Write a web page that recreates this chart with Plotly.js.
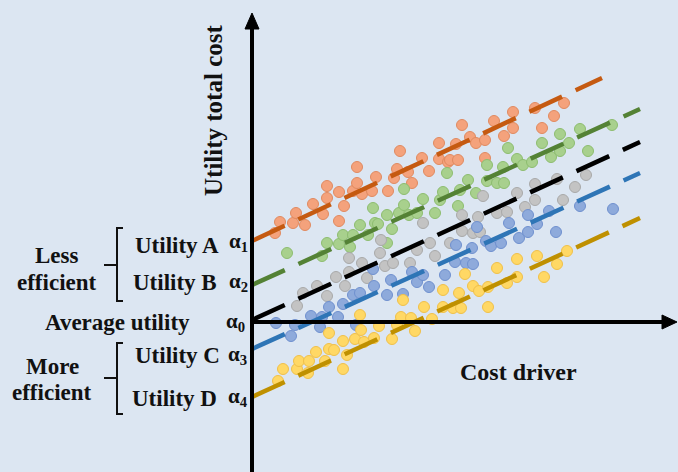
<!DOCTYPE html>
<html>
<head>
<meta charset="utf-8">
<script src="https://cdn.plot.ly/plotly-3.0.1.min.js"></script>
<style>html,body{margin:0;padding:0;background:#dce6f2;}#chart{width:678px;height:472px;}</style>
</head>
<body>
<div id="chart"></div>
<script>
// Scatter points per utility (cost driver, total cost) in diagram units; origin = average utility intercept
const utilityA = [[23,89],[28,100],[41,99],[44,109],[53,97],[61,118],[71,108],[75,136],[75,124],[87,130],[87,101],[92,116],[101,131],[105,155],[105,139],[110,128],[120,131],[124,145],[136,131],[142,144],[145,153],[148,171],[156,150],[160,139],[170,164],[177,151],[187,179],[187,163],[196,160],[198,162],[204,178],[206,162],[210,197],[218,185],[224,179],[233,182],[233,164],[242,201],[252,186],[261,210],[261,194],[283,214],[290,194],[302,206],[312,219]];
const utilityB = [[35,69],[70,66],[75,79],[87,78],[91,87],[98,75],[101,87],[108,97],[116,87],[121,114],[123,99],[126,98],[135,107],[135,79],[140,93],[147,109],[152,117],[152,133],[157,107],[165,109],[171,123],[183,109],[188,122],[191,130],[195,149],[206,116],[208,132],[216,142],[224,129],[235,157],[235,141],[245,139],[251,155],[252,139],[256,174],[265,163],[271,157],[280,160],[290,179],[299,165],[308,188],[308,171],[317,179],[328,193],[336,171],[360,197]];
const utilityAvg = [[45,16],[51,29],[65,36],[75,26],[84,45],[93,36],[97,64],[97,50],[110,59],[115,44],[128,69],[129,82],[133,56],[141,59],[158,59],[165,72],[171,99],[178,79],[183,66],[198,79],[210,107],[210,91],[221,89],[226,105],[228,90],[231,126],[245,109],[255,110],[265,129],[273,115],[283,122],[283,138],[305,143],[311,122],[323,135],[334,147]];
const utilityC = [[24,-1],[39,-14],[43,-3],[59,6],[68,-5],[70,5],[77,15],[86,5],[91,18],[101,27],[104,-3],[108,29],[121,53],[122,36],[135,27],[139,42],[151,28],[160,50],[165,40],[171,47],[177,35],[193,47],[203,60],[204,77],[214,59],[220,74],[221,58],[225,95],[234,81],[239,76],[249,79],[257,99],[267,84],[276,107],[276,90],[285,98],[297,111],[304,90],[328,116],[361,113]];
const utilityD = [[26,-59],[31,-47],[45,-47],[47,-39],[56,-51],[57,-39],[64,-30],[73,-39],[77,-27],[77,-11],[82,-28],[91,-47],[91,-19],[95,-33],[103,-17],[108,7],[109,-8],[112,-20],[122,-16],[127,-4],[140,-17],[145,-3],[149,5],[151,22],[159,4],[163,-9],[172,15],[180,3],[191,32],[191,15],[201,14],[207,29],[209,14],[213,48],[221,36],[227,31],[236,35],[236,15],[245,54],[255,39],[265,63],[265,45],[285,66],[292,45],[305,58],[315,71]];

// Fitted frontier lines: intercept (alpha) and end point
const seriesNames = ['Utility A','Utility B','Average utility','Utility C','Utility D'];
const lineStartY = [81, 37, 2, -27, -75];
const lineEndX = [350, 388, 388, 388, 388];
const lineEndY = [244, 213, 180, 149, 104];

const markerFill = ['#f4a27c','#a8d08d','#c3c3c3','#8eaadb','#ffd865'];
const markerEdge = ['#e08a60','#8dbd6f','#a9a9a9','#6f90cf','#f0c04a'];
const lineColor = ['#c55a11','#548235','#000000','#2e75b6','#bf9000'];
const pointSets = [utilityA, utilityB, utilityAvg, utilityC, utilityD];

const traces = [];
pointSets.forEach((pts, i) => {
  traces.push({
    type: 'scatter', mode: 'markers', name: seriesNames[i],
    x: pts.map(p => p[0]), y: pts.map(p => p[1]),
    marker: {size: 11, color: markerFill[i], line: {color: markerEdge[i], width: 1}},
    hoverinfo: 'skip', showlegend: false
  });
});
seriesNames.forEach((n, i) => {
  traces.push({
    type: 'scatter', mode: 'lines', name: n + ' fit',
    x: [0, lineEndX[i]], y: [lineStartY[i], lineEndY[i]],
    line: {color: lineColor[i], width: 4.5, dash: '36px,15px'},
    hoverinfo: 'skip', showlegend: false
  });
});

const F = 'Liberation Serif';
const txt = (text, x, y, xanchor, size, extra) => Object.assign({
  text: text, x: x, y: y, xref: 'x', yref: 'y', xanchor: xanchor, yanchor: 'middle',
  showarrow: false, font: {family: F, size: size, color: '#111111', weight: 'bold'}
}, extra || {});

const annotations = [
  txt('Utility total cost', -39, 211, 'center', 25, {textangle: -90}),
  txt('Cost driver', 266, -50, 'center', 24),
  txt('Less', -195, 67, 'center', 23),
  txt('efficient', -195, 40, 'center', 23),
  txt('More', -200, -44, 'center', 23),
  txt('efficient', -200, -70, 'center', 23),
  txt('Utility A', -31, 77, 'right', 23),
  txt('Utility B', -33, 40, 'right', 23),
  txt('Average utility', -135, 0, 'center', 23),
  txt('Utility C', -30, -33, 'right', 23),
  txt('Utility D', -33, -76, 'right', 23),
  txt('α<sub>1</sub>', -25, 80, 'left', 21),
  txt('α<sub>2</sub>', -25, 40, 'left', 21),
  txt('α<sub>0</sub>', -28, 0, 'left', 21),
  txt('α<sub>3</sub>', -26, -33, 'left', 21),
  txt('α<sub>4</sub>', -26, -75, 'left', 21)
];

const shapes = [
  // vertical axis with arrow
  {type:'line', xref:'x', yref:'y', x0:0, x1:0, y0:-152, y1:294, line:{color:'#000', width:4}, layer:'above'},
  {type:'path', xref:'x', yref:'y', path:'M -7 293 L 0 309 L 7 293 Z', fillcolor:'#000', line:{color:'#000', width:1}, layer:'above'},
  // horizontal axis with arrow
  {type:'line', xref:'x', yref:'y', x0:-2, x1:412, y0:0, y1:0, line:{color:'#000', width:4}, layer:'above'},
  {type:'path', xref:'x', yref:'y', path:'M 410 7 L 425 0 L 410 -7 Z', fillcolor:'#000', line:{color:'#000', width:1}, layer:'above'},
  // brackets
  {type:'path', xref:'x', yref:'y', path:'M -129 94 L -135 94 L -135 21 L -129 21 M -135 57 L -148 57', line:{color:'#111', width:2}},
  {type:'path', xref:'x', yref:'y', path:'M -129 -21 L -135 -21 L -135 -92 L -129 -92 M -135 -56 L -148 -56', line:{color:'#111', width:2}}
];

const layout = {
  width: 678, height: 472,
  margin: {l:0, r:0, t:0, b:0, pad:0},
  paper_bgcolor: '#dce6f2', plot_bgcolor: '#dce6f2',
  xaxis: {range: [-252, 426], visible: false, fixedrange: true},
  yaxis: {range: [-150, 322], visible: false, fixedrange: true},
  showlegend: false,
  annotations: annotations,
  shapes: shapes
};

Plotly.newPlot('chart', traces, layout, {displayModeBar: false, staticPlot: true});
</script>
</body>
</html>
